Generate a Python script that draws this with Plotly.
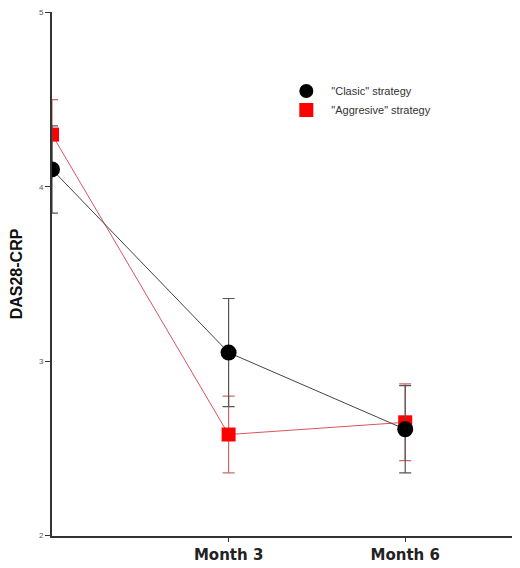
import plotly.graph_objects as go

x_pos = [0, 1, 2]
tick_vals = [1, 2]
tick_text = ["<b>Month 3</b>", "<b>Month 6</b>"]

clasic_name = '"Clasic" strategy'
clasic_vals = [4.10, 3.05, 2.61]
clasic_err = [0.25, 0.31, 0.25]

aggr_name = '"Aggresive" strategy'
aggr_vals = [4.30, 2.58, 2.65]
aggr_err = [0.20, 0.22, 0.22]

fig = go.Figure()
fig.add_trace(go.Scatter(
    x=x_pos, y=aggr_vals, name=aggr_name, mode="lines+markers", showlegend=False,
    line=dict(color="#d9555e", width=1),
    marker=dict(symbol="square", size=14, color="#ff0000", line=dict(width=0)),
    error_y=dict(type="data", array=aggr_err, color="#c86a6a", thickness=1.2, width=6),
))
fig.add_trace(go.Scatter(
    x=x_pos, y=clasic_vals, name=clasic_name, mode="lines+markers", showlegend=False,
    line=dict(color="#444444", width=1),
    marker=dict(symbol="circle", size=16, color="#000000", line=dict(width=0)),
    error_y=dict(type="data", array=clasic_err, color="#555555", thickness=1.2, width=6),
))
# legend entries (markers only)
fig.add_trace(go.Scatter(
    x=[None], y=[None], name=aggr_name, mode="markers",
    marker=dict(symbol="square", size=14, color="#ff0000"),
))
fig.add_trace(go.Scatter(
    x=[None], y=[None], name=clasic_name, mode="markers",
    marker=dict(symbol="circle", size=14, color="#000000"),
))

fig.update_layout(
    width=512, height=560,
    margin=dict(l=44, r=0, t=4, b=32, autoexpand=False),
    plot_bgcolor="white", paper_bgcolor="white",
    showlegend=True,
    legend=dict(x=0.49, y=0.877, xanchor="left", yanchor="top", traceorder="reversed",
                font=dict(family="Arial", size=11, color="#333333"),
                bgcolor="rgba(0,0,0,0)", tracegroupgap=0, itemwidth=40),
    font=dict(family="Arial"),
)
fig.update_xaxes(
    range=[0, 2.65], tickvals=tick_vals, ticktext=tick_text,
    showline=True, linecolor="#333333", linewidth=2, showgrid=False, zeroline=False,
    ticks="outside", ticklen=4, tickcolor="#333333", tickwidth=1,
    tickfont=dict(family="DejaVu Sans", size=15, color="#222222"),
)
fig.update_yaxes(
    range=[1.998, 5.003], tickvals=[2, 3, 4, 5],
    showline=True, linecolor="#333333", linewidth=2, showgrid=False, zeroline=False,
    ticks="outside", ticklen=5, tickcolor="#333333", tickwidth=1,
    tickfont=dict(family="Arial", size=8, color="#555555"),
    title=dict(text="<b>DAS28-CRP</b>", font=dict(family="Arial", size=16, color="#111111"), standoff=14),
)
fig.write_html("out.html")
